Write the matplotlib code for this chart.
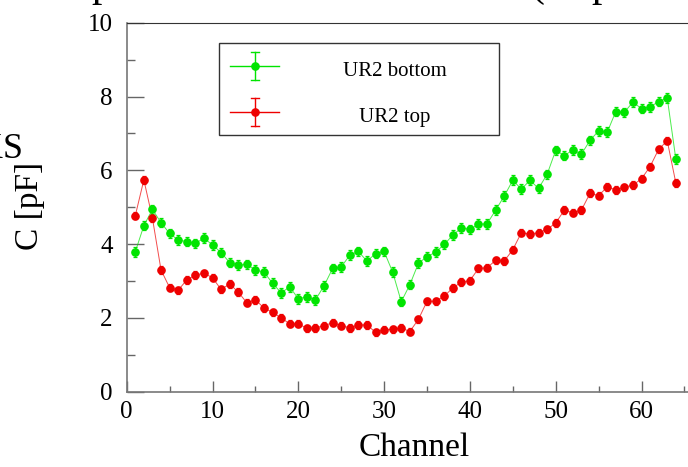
import numpy as np
import matplotlib
matplotlib.use("Agg")
from matplotlib import pyplot as plt
from matplotlib.patches import Rectangle
from matplotlib.lines import Line2D
from matplotlib.ticker import MultipleLocator

plt.rcParams['font.family'] = ['Liberation Serif', 'DejaVu Serif']

# %% data
channel = np.arange(1, 65)

ur2_bottom = [3.79, 4.50, 4.94, 4.58, 4.29, 4.11, 4.07, 4.02, 4.16, 3.98,
              3.77, 3.50, 3.43, 3.45, 3.30, 3.24, 2.94, 2.68, 2.84, 2.52,
              2.57, 2.49, 2.87, 3.34, 3.38, 3.70, 3.80, 3.54, 3.74, 3.80,
              3.24, 2.44, 2.90, 3.48, 3.66, 3.78, 3.99, 4.24, 4.44, 4.40,
              4.54, 4.55, 4.92, 5.30, 5.73, 5.49, 5.73, 5.51, 5.89, 6.54,
              6.40, 6.55, 6.44, 6.81, 7.07, 7.03, 7.59, 7.57, 7.85, 7.67,
              7.72, 7.86, 7.96, 6.31]

ur2_top = [4.77, 5.74, 4.70, 3.30, 2.82, 2.75, 3.03, 3.16, 3.21, 3.09,
           2.77, 2.92, 2.70, 2.41, 2.49, 2.27, 2.15, 2.00, 1.84, 1.84,
           1.72, 1.73, 1.79, 1.87, 1.79, 1.73, 1.81, 1.81, 1.61, 1.68,
           1.69, 1.73, 1.63, 1.96, 2.45, 2.45, 2.59, 2.81, 2.97, 3.01,
           3.34, 3.36, 3.56, 3.54, 3.85, 4.31, 4.27, 4.31, 4.40, 4.57,
           4.92, 4.85, 4.92, 5.38, 5.31, 5.55, 5.47, 5.54, 5.60, 5.77,
           6.10, 6.57, 6.80, 5.66]

err_bottom = 0.13
err_top = 0.10

series_names = ["UR2 bottom", "UR2 top"]
green = '#00e400'
red = '#ee0000'

W, H = 688, 467


def px(x, y):
    # pixel position -> figure fraction
    return x / W, 1 - y / H


# %% figure
fig = plt.figure(figsize=(6.88, 4.67), dpi=100)
x0, y0 = 126.7, 391.7
ax = fig.add_axes([x0 / W, 1 - y0 / H, (66 * 8.58) / W, (y0 - 22.7) / H])

for vals, err, col in [(ur2_bottom, err_bottom, green), (ur2_top, err_top, red)]:
    ax.plot(channel, vals, '-', color=col, lw=0.7, alpha=0.7, zorder=2)
    ax.errorbar(channel, vals, yerr=err, fmt='o', color=col, ms=5.2,
                elinewidth=0.9, capsize=1.6, capthick=0.9, zorder=3)

ax.set_xlim(0, 66)
ax.set_ylim(0, 10)
ax.xaxis.set_major_locator(MultipleLocator(10))
ax.xaxis.set_minor_locator(MultipleLocator(5))
ax.yaxis.set_major_locator(MultipleLocator(2))
ax.yaxis.set_minor_locator(MultipleLocator(1))
ax.tick_params(axis='both', which='both', direction='in', color='#666666',
               labelsize=18, top=False, right=False)
ax.tick_params(axis='y', which='major', length=12, width=1, pad=10)
ax.tick_params(axis='y', which='minor', length=6, width=1)
ax.tick_params(axis='x', which='major', length=8, width=1, pad=7)
ax.tick_params(axis='x', which='minor', length=4, width=1)
for s in ['left', 'bottom']:
    ax.spines[s].set_color('#777777')
    ax.spines[s].set_linewidth(1.2)
ax.spines['top'].set_color('#333333')
ax.spines['right'].set_visible(False)

# axis titles
fig.text(*px(414, 448), "Channel", fontsize=24, ha='center', va='center')
fig.text(*px(30, 206), "C [pF]", fontsize=24, rotation=90, ha='center', va='center')

# cut-off pieces of the original page (cropped in the reference too)
fig.text(*px(23, 158), "KS", fontsize=26, ha='right', va='baseline')
for xx, ch in [(102, "p"), (537, "("), (602, "p")]:
    fig.text(*px(xx, -4), ch, fontsize=30, ha='center', va='baseline')

# %% legend box
lx0, ly0, lx1, ly1 = 219.3, 43.3, 499.3, 135.3
fig.patches.append(Rectangle(px(lx0, ly1), (lx1 - lx0) / W, (ly1 - ly0) / H,
                             transform=fig.transFigure, fill=False,
                             edgecolor='#333333', lw=1.0))
for name, col, yy in [(series_names[0], green, 65.7), (series_names[1], red, 111.7)]:
    xa, ya = px(230, yy)
    xb, _ = px(279.3, yy)
    xc, _ = px(255, yy)
    _, yt = px(255, yy - 14)
    _, yb = px(255, yy + 14)
    fig.lines.append(Line2D([xa, xb], [ya, ya], transform=fig.transFigure, color=col, lw=1))
    fig.lines.append(Line2D([xc, xc], [yb, yt], transform=fig.transFigure, color=col, lw=1))
    cw = 4 / W
    for ye in (yt, yb):
        fig.lines.append(Line2D([xc - cw, xc + cw], [ye, ye], transform=fig.transFigure, color=col, lw=1))
    fig.lines.append(Line2D([xc], [ya], transform=fig.transFigure, color=col,
                            marker='o', ms=5.2))
    fig.text(*px(395, yy + 6), name, fontsize=15, ha='center', va='center')

fig.savefig('out.png', dpi=100)
